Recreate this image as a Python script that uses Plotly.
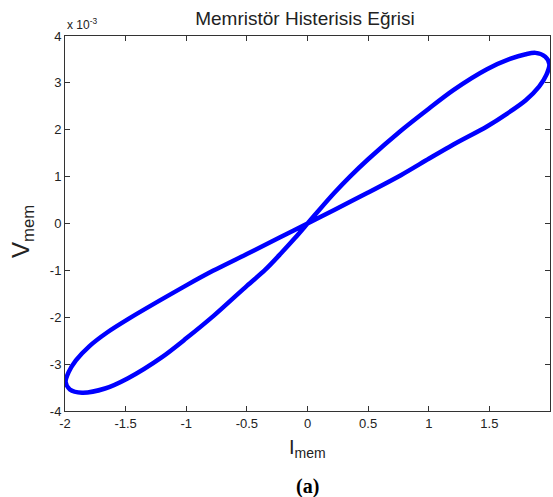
import plotly.graph_objects as go

# Data (I_mem, V_mem in units of 1e-3)
i_mem = [0.00, 0.10, 0.22, 0.35, 0.50, 0.77, 1.00, 1.20, 1.48, 1.67, 1.80, 1.88, 1.96, 1.995, 1.97,
         1.91, 1.80, 1.65, 1.48, 1.20, 1.00, 0.77, 0.50, 0.22, 0.00,
         -0.23, -0.50, -0.78, -1.00, -1.21, -1.48, -1.65, -1.80, -1.91, -1.97, -1.995, -1.96, -1.86,
         -1.67, -1.48, -1.20, -1.00, -0.77, -0.50, -0.35, -0.22, -0.10, 0.00]
v_mem = [0.00, 0.30, 0.65, 1.00, 1.37, 1.98, 2.45, 2.84, 3.29, 3.51, 3.61, 3.64, 3.56, 3.40, 3.17,
         2.92, 2.63, 2.35, 2.07, 1.68, 1.38, 1.03, 0.66, 0.29, 0.00,
         -0.30, -0.65, -1.01, -1.32, -1.63, -2.04, -2.32, -2.62, -2.92, -3.17, -3.38, -3.54, -3.61,
         -3.52, -3.30, -2.85, -2.45, -1.96, -1.33, -0.99, -0.64, -0.30, 0.00]

x_ticks = [-2, -1.5, -1, -0.5, 0, 0.5, 1, 1.5, 2]
x_tick_text = ["-2", "-1.5", "-1", "-0.5", "0", "0.5", "1", "1.5", "2"]
y_ticks = [-4, -3, -2, -1, 0, 1, 2, 3, 4]
y_tick_text = ["-4", "-3", "-2", "-1", "0", "1", "2", "3", "4"]

title_text = "Memristör Histerisis Eğrisi"

fig = go.Figure()
fig.add_trace(go.Scatter(x=i_mem, y=v_mem, mode="lines",
                         line=dict(color="#0000FF", width=4.5, shape="spline", smoothing=0.8),
                         hoverinfo="skip", showlegend=False))

axis_common = dict(showgrid=False, zeroline=False, showline=True, linecolor="#333333",
                   linewidth=1, mirror="ticks", ticks="inside", ticklen=5, tickcolor="#333333",
                   tickfont=dict(family="Liberation Sans, Arial", size=13, color="#222222"))

fig.update_layout(
    width=553, height=497,
    margin=dict(l=65, r=3, t=36, b=86),
    paper_bgcolor="white", plot_bgcolor="white",
    title=dict(text=title_text, x=305 / 553, xanchor="center", y=1 - 18 / 497, yanchor="middle",
               yref="container", font=dict(family="Liberation Sans, Arial", size=19, color="#222222")),
    xaxis=dict(range=[-2, 2], tickvals=x_ticks, ticktext=x_tick_text, **axis_common),
    yaxis=dict(range=[-4, 4], tickvals=y_ticks, ticktext=y_tick_text, **axis_common),
    annotations=[
        dict(text="x 10<sup>-3</sup>", xref="paper", yref="paper", x=0.0, y=1.0 + 12 / 375,
             xanchor="left", yanchor="middle", showarrow=False,
             font=dict(family="Liberation Sans, Arial", size=12, color="#222222")),
        dict(text="I<sub>mem</sub>", xref="paper", yref="paper", x=0.5, y=-37 / 375,
             xanchor="center", yanchor="middle", showarrow=False,
             font=dict(family="Liberation Sans, Arial", size=20, color="#222222")),
        dict(text="V<sub>mem</sub>", xref="paper", yref="paper", x=-42 / 485, y=(411 - 232) / 375,
             xanchor="center", yanchor="middle", textangle=-90, showarrow=False,
             font=dict(family="Liberation Sans, Arial", size=24, color="#222222")),
        dict(text="<b>(a)</b>", xref="paper", yref="paper", x=0.5, y=-(486 - 411) / 375,
             xanchor="center", yanchor="middle", showarrow=False,
             font=dict(family="Liberation Serif, Times New Roman", size=20, color="#000000")),
    ],
)

fig.write_html("out.html")
